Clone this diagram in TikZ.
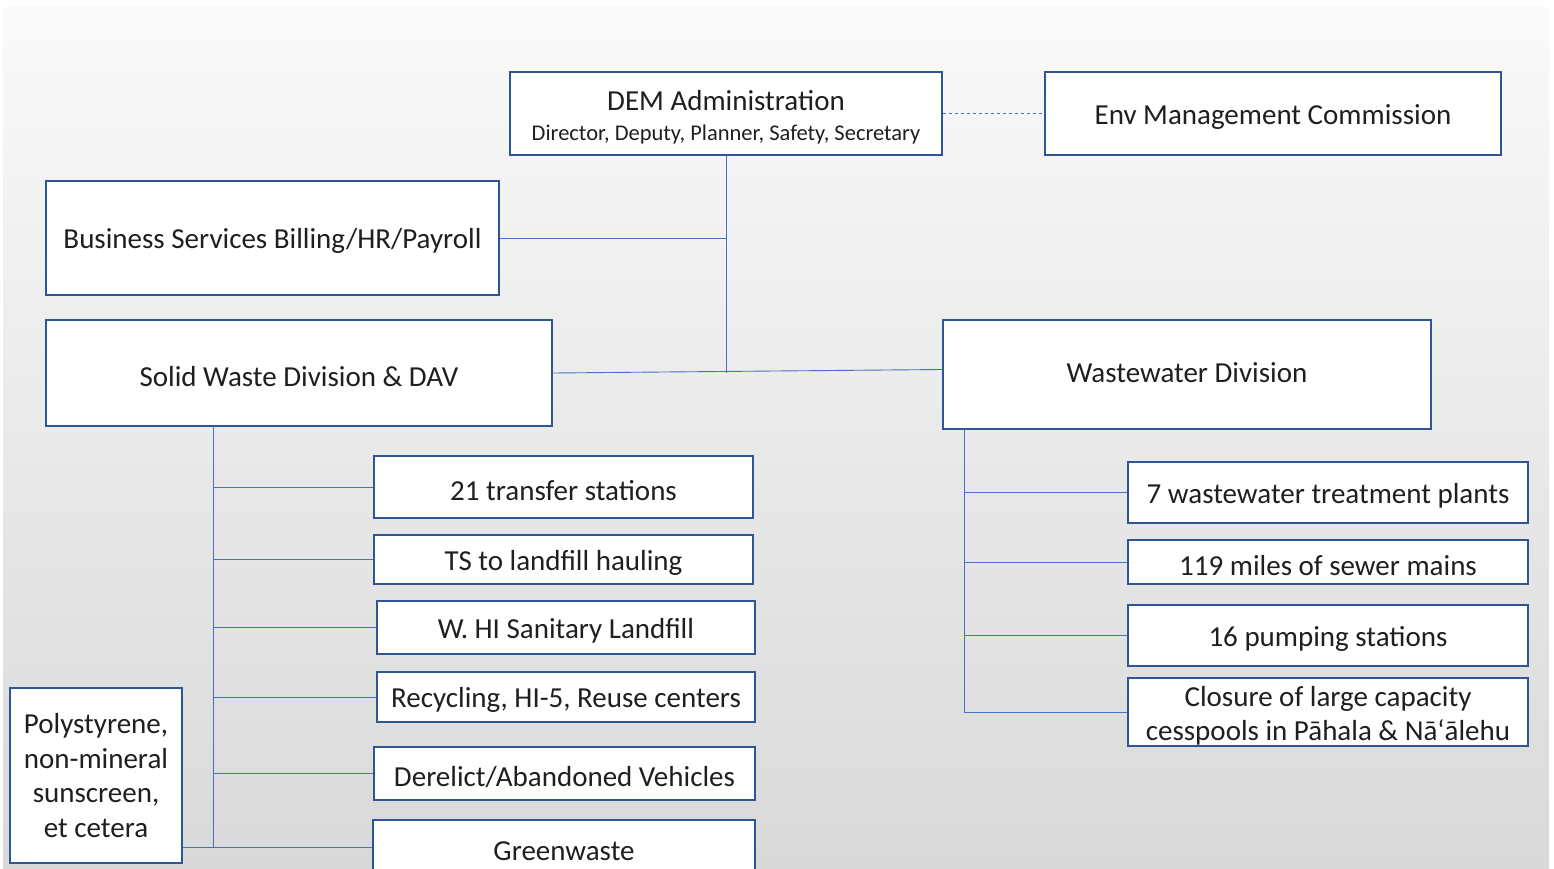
\documentclass[tikz,border=0pt]{standalone}
\usepackage{fontspec}
\setmainfont{Carlito}
\usetikzlibrary{positioning}
\definecolor{boxline}{HTML}{2F5597}
\definecolor{linkline}{HTML}{4472C4}
\definecolor{inktext}{HTML}{1F1F1F}
\tikzset{
  orgbox/.style={draw=boxline, line width=1.5pt, fill=white, inner sep=0pt,
    text=inktext, align=center, font=\fontsize{29}{34.5}\selectfont,
    execute at begin node={\rule{0pt}{26.5pt}}},
  link/.style={draw=linkline, line width=0.9pt},
}
\begin{document}
\begin{tikzpicture}[x=1pt, y=-1pt]
  \clip (0,0) rectangle (1554,869);
  \fill[white] (0,0) rectangle (1554,869);
  \shade[top color=gray!4, bottom color=gray!30] (3,8) rectangle (1549,869);

  %%top
  \node[orgbox, minimum width=432, minimum height=83] (dem) at (726,113.5)
    {\rule{0pt}{28pt}DEM Administration\\[-5pt]{\fontsize{22.5}{26}\selectfont Director, Deputy, Planner, Safety, Secretary}};
  \node[orgbox, minimum width=456, minimum height=83] (emc) at (1273,113.5)
    {Env Management Commission};
  \node[orgbox, minimum width=453, minimum height=114] (bus) at (272.5,238)
    {Business Services Billing/HR/Payroll};

  %%divisions
  \node[orgbox, minimum width=506, minimum height=106] (sw) at (299,373)
    {Solid Waste Division \& DAV};
  \node[orgbox, minimum width=488, minimum height=109, execute at begin node={}] (ww) at (1187,374.5)
    {\raisebox{5pt}{Wastewater Division}};

  %%solid waste
  \node[orgbox, minimum width=379, minimum height=62] (ts) at (563.5,487)
    {21 transfer stations};
  \node[orgbox, minimum width=379, minimum height=49] (haul) at (563.5,559.5)
    {TS to landfill hauling};
  \node[orgbox, minimum width=378, minimum height=53] (lf) at (566,627.5)
    {W. HI Sanitary Landfill};
  \node[orgbox, minimum width=378, minimum height=50] (rec) at (566,697)
    {Recycling, HI-5, Reuse centers};
  \node[orgbox, minimum width=381, minimum height=53] (dav) at (564.5,773.5)
    {Derelict/Abandoned Vehicles};
  \node[orgbox, minimum width=382, minimum height=54] (gw) at (564,847)
    {Greenwaste};
  \node[orgbox, minimum width=172, minimum height=175] (poly) at (96,775.5)
    {Polystyrene,\\non-mineral\\sunscreen,\\et cetera};

  %%wastewater
  \node[orgbox, minimum width=400, minimum height=61] (wtp) at (1328,492.5)
    {7 wastewater treatment plants};
  \node[orgbox, minimum width=400, minimum height=44] (sewer) at (1328,562)
    {119 miles of sewer mains};
  \node[orgbox, minimum width=400, minimum height=61] (pump) at (1328,635.5)
    {16 pumping stations};
  \node[orgbox, minimum width=400, minimum height=68] (cess) at (1328,712)
    {\rule{0pt}{28pt}Closure of large capacity\\cesspools in Pāhala \& Nāʻālehu};

  %%links
  \draw[link, dashed] (dem.east) -- (emc.west);
  \draw[link] (dem.south) -- (dem.south |- sw.east);
  \draw[link] (bus.east) -- (bus.east -| dem.south);
  \draw[link] (sw.east) -- ([yshift=5]ww.west);

  \coordinate (swbus) at (213,426);
  \draw[link] (swbus) -- (swbus |- gw.west);
  \foreach \kid in {ts,haul,lf,rec,dav,gw}
    \draw[link] (\kid.west) -- (\kid.west -| swbus);
  \draw[link] (poly.east |- gw.west) -- (swbus |- gw.west);

  \coordinate (wwbus) at (964,429);
  \draw[link] (wwbus) -- (wwbus |- cess.west);
  \foreach \kid in {wtp,sewer,pump,cess}
    \draw[link] (\kid.west) -- (\kid.west -| wwbus);
\end{tikzpicture}
\end{document}
